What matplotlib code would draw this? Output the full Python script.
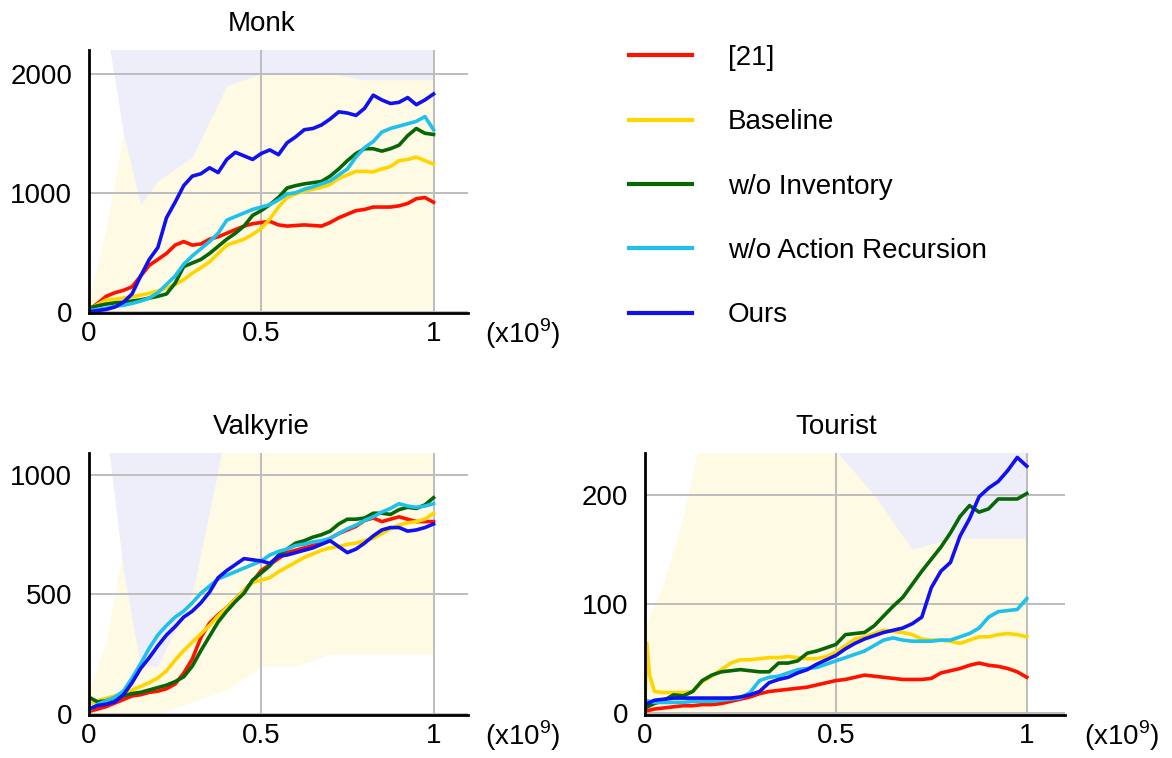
import matplotlib
matplotlib.use("Agg")
import matplotlib.pyplot as plt
import matplotlib.transforms as mtransforms

plt.rcParams['font.family'] = ['Liberation Sans', 'DejaVu Sans']
plt.rcParams['mathtext.fontset'] = 'custom'
plt.rcParams['mathtext.rm'] = 'Liberation Sans'

# training steps (x1e9), sampled every 0.025
steps = [0, .025, .05, .075, .1, .125, .15, .175, .2, .225, .25, .275, .3, .325, .35,
         .375, .4, .425, .45, .475, .5, .525, .55, .575, .6, .625, .65, .675, .7,
         .725, .75, .775, .8, .825, .85, .875, .9, .925, .95, .975, 1.0]

labels = ["[21]", "Baseline", "w/o Inventory", "w/o Action Recursion", "Ours"]
colors = ["#ff1100", "#ffd500", "#076707", "#1ec0ec", "#1010f0"]

# ---- Monk ----
monk_ref = [20, 70, 130, 160, 180, 210, 300, 390, 440, 490, 560, 590, 560, 570, 610,
            630, 660, 690, 720, 740, 750, 760, 730, 720, 725, 730, 725, 720, 750,
            790, 820, 850, 860, 880, 880, 880, 890, 910, 950, 960, 920]
monk_base = [20, 60, 100, 105, 115, 125, 140, 155, 175, 200, 230, 270, 325, 370, 420,
             490, 560, 585, 610, 650, 700, 780, 880, 960, 990, 1015, 1030, 1045, 1070,
             1120, 1150, 1180, 1180, 1175, 1200, 1220, 1270, 1280, 1300, 1270, 1240]
monk_noinv = [30, 50, 65, 75, 80, 90, 100, 115, 130, 150, 240, 380, 410, 440, 490,
              550, 610, 660, 720, 810, 850, 900, 960, 1040, 1060, 1075, 1085, 1095, 1140,
              1200, 1270, 1330, 1370, 1370, 1350, 1370, 1400, 1480, 1540, 1500, 1490]
monk_norec = [10, 20, 30, 45, 55, 70, 90, 115, 160, 230, 300, 400, 470, 530, 590,
              660, 770, 800, 830, 860, 880, 900, 940, 990, 1000, 1030, 1050, 1075, 1100,
              1150, 1200, 1300, 1380, 1430, 1510, 1540, 1560, 1580, 1600, 1640, 1530]
monk_ours = [0, 10, 20, 40, 80, 150, 300, 440, 540, 790, 920, 1060, 1140, 1160, 1210,
             1170, 1280, 1340, 1310, 1280, 1330, 1360, 1320, 1420, 1470, 1530, 1540, 1570, 1620,
             1680, 1670, 1650, 1710, 1820, 1780, 1750, 1760, 1800, 1740, 1780, 1830]

# ---- Valkyrie ----
valk_ref = [10, 20, 30, 45, 60, 75, 80, 90, 95, 105, 125, 170, 230, 320, 380,
            415, 445, 480, 515, 555, 600, 625, 650, 675, 685, 695, 705, 715, 735,
            755, 770, 785, 810, 820, 805, 815, 825, 815, 805, 805, 805]
valk_base = [40, 55, 65, 75, 85, 100, 115, 130, 150, 180, 225, 265, 300, 335, 370,
             410, 445, 480, 515, 550, 560, 570, 595, 615, 635, 655, 670, 685, 695,
             700, 710, 715, 725, 735, 755, 775, 790, 800, 805, 815, 840]
valk_noinv = [70, 50, 55, 65, 75, 85, 90, 100, 110, 120, 135, 155, 200, 265, 325,
              385, 430, 470, 505, 560, 590, 620, 665, 690, 715, 725, 740, 750, 765,
              795, 815, 815, 820, 840, 840, 835, 855, 865, 860, 875, 905]
valk_norec = [15, 40, 55, 70, 95, 150, 210, 275, 330, 370, 405, 430, 465, 505, 535,
              565, 580, 595, 610, 625, 640, 665, 680, 690, 705, 710, 720, 725, 735,
              755, 775, 790, 810, 825, 845, 860, 880, 870, 865, 870, 880]
valk_ours = [20, 35, 40, 50, 80, 130, 190, 235, 285, 330, 365, 405, 430, 465, 510,
             570, 600, 625, 650, 645, 640, 630, 660, 665, 675, 685, 695, 710, 725,
             700, 675, 690, 715, 745, 770, 780, 780, 765, 770, 780, 795]

# ---- Tourist ----
tour_ref = [2, 4, 5, 6, 7, 7, 8, 8, 9, 11, 13, 15, 18, 20, 21,
            22, 23, 24, 26, 28, 30, 31, 33, 35, 34, 33, 32, 31, 31,
            31, 32, 37, 39, 41, 44, 46, 44, 43, 41, 38, 33]
tour_base = [10, 20, 19, 19, 19, 20, 29, 34, 40, 46, 49, 49, 50, 51, 51,
             52, 51, 50, 50, 52, 56, 62, 68, 70, 73, 76, 75, 74, 72,
             68, 67, 67, 66, 64, 67, 70, 70, 72, 73, 72, 70]
tour_base_spike_x = [0.005, 0.012]   # early spike of the baseline
tour_base_spike_y = [64, 35]
tour_noinv = [5, 9, 12, 17, 16, 20, 30, 35, 38, 39, 40, 39, 38, 38, 46,
              46, 48, 55, 57, 60, 63, 72, 73, 74, 80, 89, 98, 106, 118,
              130, 141, 152, 165, 180, 190, 184, 187, 196, 196, 196, 201]
tour_norec = [12, 10, 10, 10, 10, 11, 11, 11, 12, 13, 14, 19, 30, 33, 34,
              37, 40, 41, 42, 45, 48, 51, 54, 57, 62, 67, 69, 67, 66,
              66, 66, 67, 67, 70, 73, 78, 88, 93, 94, 95, 105]
tour_ours = [8, 12, 13, 14, 14, 14, 14, 14, 14, 14, 15, 17, 20, 28, 31,
             33, 37, 40, 45, 49, 53, 59, 64, 68, 71, 74, 76, 78, 82,
             88, 115, 130, 138, 162, 178, 198, 206, 212, 222, 234, 226]

# faint spread bands behind the curves (Baseline cream, Ours lavender)
band_x = [0, .05, .1, .15, .2, .3, .4, .5, .6, .7, .8, .9, 1.0]
monk_base_lo = [0, 0, 0, 0, 0, 0, 0, 0, 0, 0, 0, 0, 0]
monk_base_hi = [100, 700, 1500, 2400, 2400, 2400, 2400, 2400, 2400, 2400, 2400, 2400, 2400]
monk_ours_lo = [2400, 2400, 1500, 900, 1100, 1300, 1900, 2000, 2000, 2000, 1950, 1950, 1950]
monk_ours_hi = [2400, 2400, 2400, 2400, 2400, 2400, 2400, 2400, 2400, 2400, 2400, 2400, 2400]
valk_base_lo = [0, 0, 0, 0, 0, 50, 100, 200, 200, 250, 250, 250, 250]
valk_base_hi = [100, 300, 700, 1200, 1200, 1200, 1200, 1200, 1200, 1200, 1200, 1200, 1200]
valk_ours_lo = [1200, 1200, 600, 200, 200, 500, 1200, 1200, 1200, 1200, 1200, 1200, 1200]
valk_ours_hi = [1200, 1200, 1200, 1200, 1200, 1200, 1200, 1200, 1200, 1200, 1200, 1200, 1200]
tour_base_lo = [0, 0, 0, 0, 0, 0, 0, 0, 0, 0, 0, 0, 0]
tour_base_hi = [80, 120, 180, 260, 260, 260, 260, 260, 260, 260, 260, 260, 260]
tour_ours_lo = [260, 260, 260, 260, 260, 260, 260, 240, 200, 150, 160, 160, 160]
tour_ours_hi = [260, 260, 260, 260, 260, 260, 260, 260, 260, 260, 260, 260, 260]

fig = plt.figure(figsize=(11.72, 7.58), dpi=100)
FS = 20


def panel(rect, title, series, ylim, yticks, bands, extra=None):
    ax = fig.add_axes(rect)
    blo, bhi, olo, ohi = bands
    ax.fill_between(band_x, blo, bhi, color="#fffae3", lw=0, zorder=0.1)
    ax.fill_between(band_x, olo, ohi, color="#eeeefb", lw=0, zorder=0.2)
    for i, (ys, c) in enumerate(zip(series, colors)):
        xs = list(steps)
        yy = list(ys)
        if extra is not None and i == 1:
            xs = [xs[0]] + extra[0] + xs[1:]
            yy = [yy[0]] + extra[1] + yy[1:]
        ax.plot(xs, yy, color=c, lw=2.6, zorder=2 + i * 0.1)
    ax.set_xlim(0, 1.1)
    ax.set_ylim(*ylim)
    ax.set_xticks([0, 0.5, 1])
    ax.set_xticklabels(["0", "0.5", "1"])
    ax.set_yticks(yticks)
    ax.tick_params(length=0, labelsize=FS)
    ax.tick_params(axis="y", pad=12)
    ax.tick_params(axis="x", pad=6)
    ax.grid(True, color="#bdbdbd", lw=1.4)
    ax.set_axisbelow(True)
    for s in ["top", "right"]:
        ax.spines[s].set_visible(False)
    for s in ["left", "bottom"]:
        ax.spines[s].set_linewidth(2)
        ax.spines[s].set_color("black")
    trans = mtransforms.blended_transform_factory(ax.transData, ax.transAxes)
    ax.text(0.5, 1.1, title, transform=trans, ha="center", va="center", fontsize=FS)
    ax.text(1.045, -0.115, r"(x10$^{\mathregular{9}}$)", transform=ax.transAxes,
            ha="left", va="baseline", fontsize=FS)
    return ax


ax1 = panel([0.0759, 0.5871, 0.3234, 0.347], "Monk",
            [monk_ref, monk_base, monk_noinv, monk_norec, monk_ours],
            (-10, 2200), [0, 1000, 2000],
            (monk_base_lo, monk_base_hi, monk_ours_lo, monk_ours_hi))
ax2 = panel([0.0759, 0.0567, 0.3234, 0.3456], "Valkyrie",
            [valk_ref, valk_base, valk_noinv, valk_norec, valk_ours],
            (-5, 1092), [0, 500, 1000],
            (valk_base_lo, valk_base_hi, valk_ours_lo, valk_ours_hi))
ax3 = panel([0.5503, 0.0567, 0.3584, 0.3456], "Tourist",
            [tour_ref, tour_base, tour_noinv, tour_norec, tour_ours],
            (-1.5, 238), [0, 100, 200],
            (tour_base_lo, tour_base_hi, tour_ours_lo, tour_ours_hi),
            extra=(tour_base_spike_x, tour_base_spike_y))

handles = [plt.Line2D([], [], color=c, lw=3) for c in colors]
fig.legend(handles, labels, loc="upper left", bbox_to_anchor=(629 / 1172, 1 - 45 / 758),
           frameon=False, fontsize=FS, handlelength=2.25, handletextpad=1.3,
           labelspacing=1.38, borderpad=0, borderaxespad=0)

fig.savefig("out.png", dpi=100)
